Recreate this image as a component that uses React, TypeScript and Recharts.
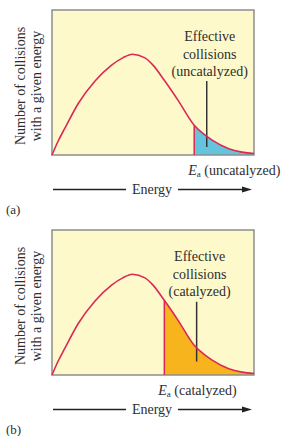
import React from 'react';
import {
  ComposedChart,
  Area,
  Line,
  XAxis,
  YAxis,
  CartesianGrid,
  ReferenceArea,
  ReferenceLine,
} from 'recharts';

// distribution curve (energy and count both on a 0-100 scale)
const energy = [0, 3, 6.4, 13, 21.3, 29.5, 35, 39.8, 46, 50, 55.6, 62.5, 70.4, 75, 79.1, 87.5, 94, 100];
const collisions = [0, 9.5, 18.5, 35.5, 51, 62, 67, 69.5, 67, 62, 51.5, 37.5, 20.5, 14.5, 10.4, 4.3, 2, 1];

const panelNames = ['(a)', '(b)'];
const conditions = ['uncatalyzed', 'catalyzed'];
const activationEnergy = [70.4, 55.6];
const pointerX = [76.6, 71.6];
const pointerTop = [51, 50.5];
const pointerBottom = [5.5, 9.3];
const tailColors = ['#65c4dd', '#f7b41c'];

const PLOT_LEFT = 52;
const PLOT_TOP = 10;
const PLOT_W = 202;
const PLOT_H = 145;
const CHART_H = 160;

const textColor = '#2e2e2e';
const curveColor = '#dc2856';

const toPx = (x: number) => PLOT_LEFT + (x / 100) * PLOT_W;

function Panel({ index, top }: { index: number; top: number }) {
  const ea = activationEnergy[index];
  const eaValue = collisions[energy.indexOf(ea)];
  const data = energy.map((e, i) => ({
    energy: e,
    count: collisions[i],
    tail: e >= ea ? collisions[i] : null,
  }));
  const pointerPx = toPx(pointerX[index]);

  return (
    <div style={{ position: 'absolute', left: 0, top, width: 284, height: 216 }}>
      <ComposedChart
        width={284}
        height={CHART_H}
        data={data}
        margin={{ top: PLOT_TOP, left: PLOT_LEFT, right: 284 - PLOT_LEFT - PLOT_W, bottom: CHART_H - PLOT_TOP - PLOT_H }}
      >
        <CartesianGrid fill="#fdf9ca" horizontal={false} vertical={false} />
        <XAxis type="number" dataKey="energy" domain={[0, 100]} hide />
        <YAxis type="number" domain={[0, 100]} hide />
        <Area
          type="monotone"
          dataKey="tail"
          stroke="none"
          fill={tailColors[index]}
          fillOpacity={1}
          isAnimationActive={false}
        />
        <ReferenceLine
          segment={[{ x: ea, y: 0 }, { x: ea, y: eaValue }]}
          stroke={curveColor}
          strokeWidth={1.5}
        />
        <ReferenceLine
          segment={[{ x: pointerX[index], y: pointerBottom[index] }, { x: pointerX[index], y: pointerTop[index] }]}
          stroke="#333"
          strokeWidth={1.5}
        />
        <Line
          type="monotone"
          dataKey="count"
          stroke={curveColor}
          strokeWidth={1.6}
          dot={false}
          isAnimationActive={false}
        />
        <ReferenceArea x1={0} x2={100} y1={0} y2={100} fill="none" stroke="#8d8d8d" strokeWidth={1.5} />
      </ComposedChart>

      {/* y axis title */}
      <div
        style={{
          position: 'absolute',
          left: 30 - 75,
          top: 86 - 17,
          width: 150,
          height: 34,
          lineHeight: '16px',
          fontSize: 14,
          textAlign: 'center',
          transform: 'rotate(-90deg)',
          color: textColor,
        }}
      >
        Number of collisions
        <br />
        with a given energy
      </div>

      {/* effective collisions note */}
      <div
        style={{
          position: 'absolute',
          left: pointerPx + 3 - 60,
          top: 28,
          width: 120,
          lineHeight: '17.5px',
          fontSize: 14,
          textAlign: 'center',
          color: textColor,
        }}
      >
        Effective
        <br />
        collisions
        <br />({conditions[index]})
      </div>

      {/* Ea label */}
      <div
        style={{
          position: 'absolute',
          left: toPx(ea) - 6,
          top: 162,
          fontSize: 14,
          lineHeight: '18px',
          whiteSpace: 'nowrap',
          color: textColor,
        }}
      >
        <i>E</i>
        <sub style={{ fontSize: 9, verticalAlign: '-2px' }}>a</sub> ({conditions[index]})
      </div>

      {/* energy arrow */}
      <svg style={{ position: 'absolute', left: 0, top: 180 }} width={284} height={20}>
        <line x1={53} y1={9.5} x2={126} y2={9.5} stroke="#222" strokeWidth={1.3} />
        <line x1={178} y1={9.5} x2={244} y2={9.5} stroke="#222" strokeWidth={1.3} />
        <polygon points="252,9.5 242,6.5 242,12.5" fill="#222" />
        <text x={152} y={14} textAnchor="middle" fontSize={14} fill={textColor} fontFamily="'Liberation Serif', serif">
          Energy
        </text>
      </svg>

      <div style={{ position: 'absolute', left: 6, top: 202, fontSize: 13, color: textColor }}>{panelNames[index]}</div>
    </div>
  );
}

export default function App() {
  return (
    <div
      style={{
        position: 'absolute',
        left: 0,
        top: 0,
        width: 284,
        height: 436,
        background: '#fff',
        fontFamily: "'Liberation Serif', 'Times New Roman', serif",
        overflow: 'hidden',
      }}
    >
      <Panel index={0} top={0} />
      <Panel index={1} top={220} />
    </div>
  );
}
